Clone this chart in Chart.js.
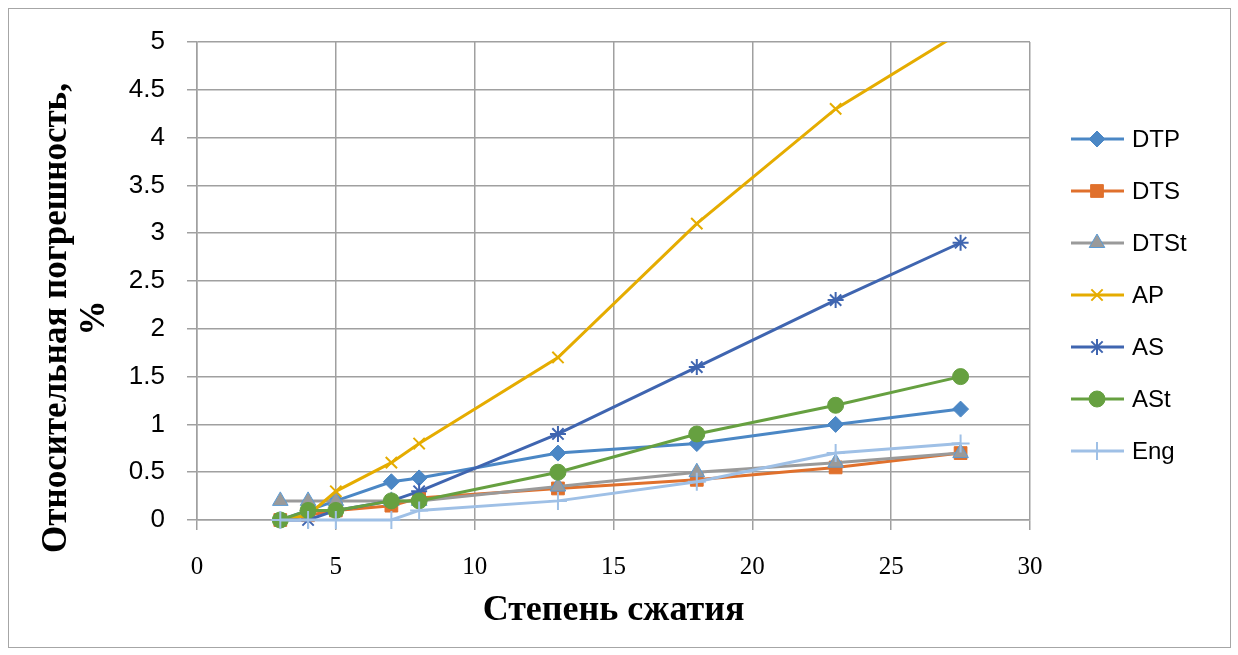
<!DOCTYPE html>
<html>
<head>
<meta charset="utf-8">
<script src="https://cdn.jsdelivr.net/npm/chart.js@4/dist/chart.umd.min.js"></script>
<style>
  body { margin: 0; background: #fff; }
</style>
</head>
<body>
<canvas id="myChart" width="1238" height="655"></canvas>
<script>
// степень сжатия
const ratios = [3, 4, 5, 7, 8, 13, 18, 23, 27.5];

const dtp = [0, 0.1, 0.2, 0.4, 0.44, 0.7, 0.8, 1.0, 1.16];
const dts = [0, 0.05, 0.1, 0.15, 0.23, 0.33, 0.42, 0.55, 0.7];
const dtst = [0.2, 0.2, 0.2, 0.2, 0.2, 0.35, 0.5, 0.6, 0.7];
const ap = [0, 0.05, 0.3, 0.6, 0.8, 1.7, 3.1, 4.3, 5.1];
const as = [0, 0, 0.1, 0.2, 0.3, 0.9, 1.6, 2.3, 2.9];
const ast = [0, 0.1, 0.1, 0.2, 0.2, 0.5, 0.9, 1.2, 1.5];
const eng = [0, 0, 0, 0, 0.1, 0.2, 0.4, 0.7, 0.8];

const xTicks = [0, 5, 10, 15, 20, 25, 30];
const yTicks = [0, 0.5, 1, 1.5, 2, 2.5, 3, 3.5, 4, 4.5, 5];

const xTitle = 'Степень сжатия';
const yTitle = ['Относительная погрешность,', '%'];

const ctx = document.getElementById('myChart');

function makeSeries(label, values, color, style, radius, fill, order) {
  return {
    label: label,
    data: values.map((v, i) => ({ x: ratios[i], y: v })),
    borderColor: color,
    backgroundColor: fill || color,
    pointBorderColor: style === 'triangle' ? '#5B9BD5' : color,
    pointBackgroundColor: fill || color,
    borderWidth: 3,
    pointStyle: style,
    pointRadius: radius,
    pointBorderWidth: style === 'cross' || style === 'crossRot' || style === 'star' ? 2 : 1,
    tension: 0,
    order: order,
    clip: { left: 15, right: 15, top: 0, bottom: 15 },
  };
}

// рамка вокруг всей диаграммы
const framePlugin = {
  id: 'frame',
  beforeDraw(chart) {
    const c = chart.ctx;
    c.save();
    c.fillStyle = '#fff';
    c.fillRect(0, 0, chart.width, chart.height);
    c.strokeStyle = '#a6a6a6';
    c.lineWidth = 1;
    c.strokeRect(8.5, 8.5, 1222, 639);
    c.restore();
  },
};

// подпись оси Y (по центру как в Excel)
const yTitlePlugin = {
  id: 'yTitle',
  afterDraw(chart) {
    const c = chart.ctx;
    c.save();
    c.font = 'bold 35px "Liberation Serif"';
    c.fillStyle = '#000';
    c.textAlign = 'center';
    c.textBaseline = 'middle';
    const xs = [57, 95];
    yTitle.forEach((line, i) => {
      c.save();
      c.translate(xs[i], 318);
      c.rotate(-Math.PI / 2);
      c.fillText(line, 0, 0);
      c.restore();
    });
    c.restore();
  },
};

// легенда справа: линия + маркер + текст
const legendPlugin = {
  id: 'sideLegend',
  afterDraw(chart) {
    const c = chart.ctx;
    chart.data.datasets.forEach((ds, i) => {
      const y = 139 + i * 52;
      c.save();
      c.strokeStyle = ds.borderColor;
      c.lineWidth = 3;
      c.beginPath();
      c.moveTo(1071, y);
      c.lineTo(1124, y);
      c.stroke();
      c.fillStyle = ds.pointBackgroundColor;
      c.strokeStyle = ds.pointBorderColor;
      c.lineWidth = ds.pointBorderWidth;
      Chart.helpers.drawPoint(c, {
        pointStyle: ds.pointStyle,
        radius: ds.pointRadius,
        borderWidth: ds.pointBorderWidth,
        rotation: 0,
      }, 1097, y);
      c.fillStyle = '#000';
      c.font = '24px "Liberation Sans"';
      c.textAlign = 'left';
      c.textBaseline = 'middle';
      c.fillText(ds.label, 1132, y + 1);
      c.restore();
    });
  },
};

new Chart(ctx, {
  type: 'line',
  data: {
    datasets: [
      makeSeries('DTP', dtp, '#4B87C5', 'rectRot', 8, null, 7),
      makeSeries('DTS', dts, '#E0702C', 'rect', 9, null, 6),
      makeSeries('DTSt', dtst, '#9A9A9A', 'triangle', 9, '#9A9A9A', 5),
      makeSeries('AP', ap, '#E5AC00', 'crossRot', 8, null, 4),
      makeSeries('AS', as, '#3F65B0', 'star', 8, null, 3),
      makeSeries('ASt', ast, '#66A040', 'circle', 8, null, 2),
      makeSeries('Eng', eng, '#9FC0E6', 'cross', 9, null, 1),
    ],
  },
  options: {
    responsive: false,
    animation: false,
    devicePixelRatio: 1,
    layout: { padding: { left: 0, top: 42, right: 208, bottom: 0 } },
    plugins: {
      legend: { display: false },
      tooltip: { enabled: false },
    },
    scales: {
      x: {
        type: 'linear',
        min: 0,
        max: 30,
        afterBuildTicks: axis => { axis.ticks = xTicks.map(v => ({ value: v })); },
        ticks: {
          color: '#000',
          padding: 22,
          maxRotation: 0,
          callback: v => String(v),
          font: { family: '"Liberation Serif"', size: 25 },
        },
        grid: { color: '#a0a0a0', lineWidth: 1.5, tickLength: 10 },
        border: { color: '#a0a0a0', width: 1.5 },
        title: {
          display: true,
          text: xTitle,
          color: '#000',
          padding: { top: 0, bottom: 23 },
          font: { family: '"Liberation Serif"', size: 36, weight: 'bold' },
        },
        afterFit: scale => { scale.height = 135; },
      },
      y: {
        min: 0,
        max: 5,
        afterBuildTicks: axis => { axis.ticks = yTicks.map(v => ({ value: v })); },
        ticks: {
          color: '#000',
          padding: 22,
          callback: v => String(v),
          font: { family: '"Liberation Sans"', size: 26 },
        },
        grid: { color: '#a0a0a0', lineWidth: 1.5, tickLength: 10 },
        border: { color: '#a0a0a0', width: 1.5 },
        afterFit: scale => { scale.width = 197; },
      },
    },
  },
  plugins: [framePlugin, yTitlePlugin, legendPlugin],
});
</script>
</body>
</html>
